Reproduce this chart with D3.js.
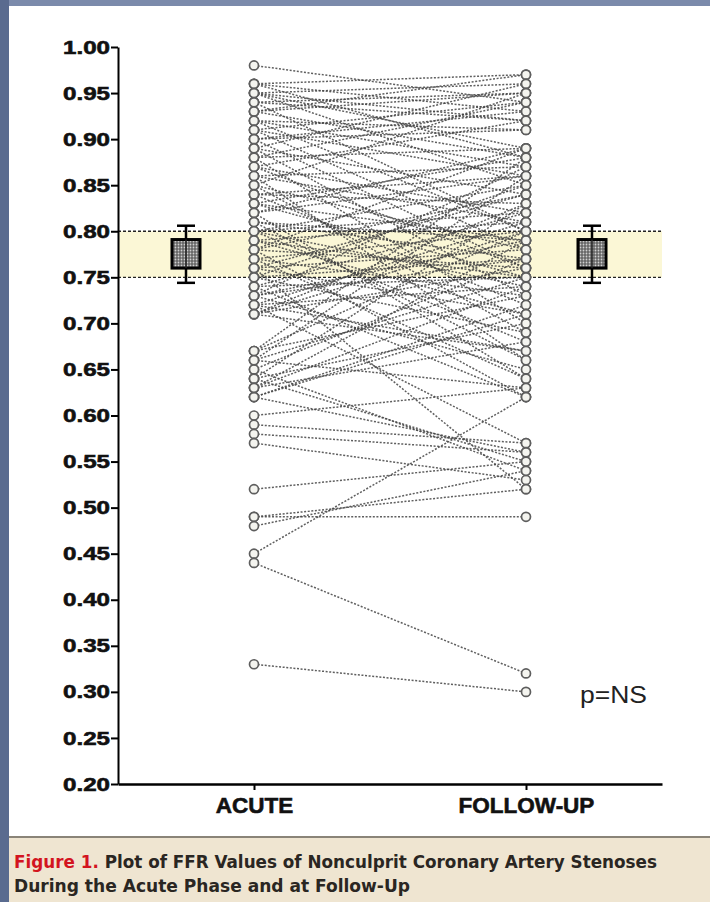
<!DOCTYPE html>
<html>
<head>
<meta charset="utf-8">
<script src="https://cdn.jsdelivr.net/npm/d3@7"></script>
<style>
  body { margin: 0; background: #7b8aab; }
  svg { display: block; }
</style>
</head>
<body>
<svg id="chart" width="710" height="902"></svg>
<script>
// categories on the x axis
const groups = ["ACUTE", "FOLLOW-UP"];

// paired FFR values, one entry per stenosis (acute[i] -> followUp[i])
const acute = [
  0.98, 0.96, 0.96, 0.95, 0.95, 0.95, 0.94, 0.94, 0.93, 0.93,
  0.92, 0.92, 0.91, 0.91, 0.90, 0.90, 0.89, 0.89, 0.88, 0.88,
  0.87, 0.87, 0.86, 0.86, 0.85, 0.85, 0.84, 0.84, 0.83, 0.83,
  0.82, 0.82, 0.81, 0.81, 0.80, 0.80, 0.80, 0.79, 0.79, 0.78,
  0.78, 0.78, 0.77, 0.77, 0.76, 0.76, 0.76, 0.75, 0.75, 0.74,
  0.74, 0.73, 0.73, 0.73, 0.72, 0.72, 0.72, 0.71, 0.71, 0.71,
  0.67, 0.67, 0.66, 0.66, 0.65, 0.65, 0.64, 0.64, 0.63, 0.63,
  0.62, 0.62, 0.62, 0.60, 0.59, 0.58, 0.57, 0.52, 0.49, 0.49,
  0.48, 0.45, 0.44, 0.33,
  0.96, 0.95, 0.94, 0.93, 0.92, 0.91, 0.90, 0.89, 0.88, 0.87,
  0.86, 0.85, 0.84, 0.83, 0.82, 0.81, 0.80, 0.79, 0.78, 0.77,
  0.76, 0.75, 0.74, 0.73, 0.72, 0.71, 0.67, 0.66, 0.64, 0.63
];
const followUp = [
  0.94, 0.97, 0.93, 0.96, 0.89, 0.85, 0.95, 0.92, 0.97, 0.88,
  0.91, 0.80, 0.94, 0.86, 0.93, 0.76, 0.96, 0.84, 0.89, 0.70,
  0.92, 0.82, 0.87, 0.66, 0.95, 0.78, 0.83, 0.72, 0.88, 0.75,
  0.86, 0.64, 0.79, 0.77, 0.85, 0.74, 0.68, 0.81, 0.71, 0.89,
  0.76, 0.62, 0.80, 0.73, 0.84, 0.52, 0.78, 0.77, 0.69, 0.82,
  0.75, 0.87, 0.79, 0.65, 0.74, 0.57, 0.81, 0.76, 0.67, 0.83,
  0.80, 0.73, 0.86, 0.63, 0.77, 0.54, 0.70, 0.55, 0.79, 0.68,
  0.72, 0.56, 0.71, 0.63, 0.57, 0.56, 0.53, 0.55, 0.49, 0.52,
  0.54, 0.62, 0.32, 0.30,
  0.88, 0.92, 0.80, 0.95, 0.87, 0.78, 0.91, 0.73, 0.94, 0.76,
  0.81, 0.69, 0.86, 0.79, 0.89, 0.66, 0.82, 0.75, 0.84, 0.64,
  0.71, 0.85, 0.62, 0.77, 0.67, 0.80, 0.88, 0.75, 0.83, 0.74
];

// summary marks beside each column: box (low/high) and whiskers (low/high)
const boxLow = [0.760, 0.760];
const boxHigh = [0.791, 0.791];
const whiskerLow = [0.744, 0.744];
const whiskerHigh = [0.806, 0.806];

// shaded zone
const zone = [0.75, 0.80];

const yTicks = [0.20, 0.25, 0.30, 0.35, 0.40, 0.45, 0.50, 0.55, 0.60, 0.65,
                0.70, 0.75, 0.80, 0.85, 0.90, 0.95, 1.00];

const svg = d3.select("#chart");

// frame: blue page, white figure panel, beige caption strip
svg.append("rect").attr("x", 0).attr("y", 0).attr("width", 710).attr("height", 902).attr("fill", "#7b8aab");
svg.append("rect").attr("x", 0).attr("y", 0).attr("width", 9).attr("height", 902).attr("fill", "#5a6b8f");
svg.append("rect").attr("x", 9).attr("y", 6).attr("width", 701).attr("height", 896).attr("fill", "#ffffff");
svg.append("rect").attr("x", 9).attr("y", 837).attr("width", 701).attr("height", 65).attr("fill", "#efe5d1");
svg.append("line").attr("x1", 9).attr("x2", 710).attr("y1", 837).attr("y2", 837)
  .attr("stroke", "#8a8478").attr("stroke-width", 2);

const y = d3.scaleLinear().domain([0.2, 1.0]).range([784, 47]);
const x = d3.scalePoint().domain(groups).range([118, 662]).padding(0.5);

const g = svg.append("g");

// pattern for the stippled boxes
const defs = svg.append("defs");
const pat = defs.append("pattern").attr("id", "stipple")
  .attr("width", 3).attr("height", 3).attr("patternUnits", "userSpaceOnUse");
pat.append("rect").attr("width", 3).attr("height", 3).attr("fill", "#666");
pat.append("circle").attr("cx", 1.5).attr("cy", 1.5).attr("r", 0.9).attr("fill", "#d0d0d0");

// pale band between 0.75 and 0.80
g.append("rect")
  .attr("x", 118).attr("width", 662 - 118)
  .attr("y", y(zone[1])).attr("height", y(zone[0]) - y(zone[1]))
  .attr("fill", "#fbf7d6");
g.selectAll("line.zone").data(zone).enter().append("line")
  .attr("class", "zone")
  .attr("x1", 118).attr("x2", 662)
  .attr("y1", d => y(d)).attr("y2", d => y(d))
  .attr("stroke", "#222").attr("stroke-width", 1.3)
  .attr("stroke-dasharray", "3,2");

// paired lines
const pairs = acute.map((a, i) => ({a: a, f: followUp[i]}));
g.selectAll("line.pair").data(pairs).enter().append("line")
  .attr("class", "pair")
  .attr("x1", x("ACUTE")).attr("x2", x("FOLLOW-UP"))
  .attr("y1", d => y(d.a)).attr("y2", d => y(d.f))
  .attr("stroke", "#444").attr("stroke-width", 1.5)
  .attr("stroke-dasharray", "2,1.6")
  .attr("opacity", 0.85);

// points
const pts = acute.map(v => ({g: "ACUTE", v: v}))
  .concat(followUp.map(v => ({g: "FOLLOW-UP", v: v})));
g.selectAll("circle.pt").data(pts).enter().append("circle")
  .attr("class", "pt")
  .attr("cx", d => x(d.g)).attr("cy", d => y(d.v))
  .attr("r", 4.5)
  .attr("fill", "#f4f4ef").attr("stroke", "#5e5e5e").attr("stroke-width", 1.7);

// summary boxes next to each column
const boxX = [x("ACUTE") - 68, x("FOLLOW-UP") + 66];
const summary = groups.map((k, i) => ({cx: boxX[i], lo: boxLow[i], hi: boxHigh[i], wl: whiskerLow[i], wh: whiskerHigh[i]}));
const sg = g.selectAll("g.summary").data(summary).enter().append("g").attr("class", "summary");
sg.append("line")
  .attr("x1", d => d.cx).attr("x2", d => d.cx)
  .attr("y1", d => y(d.wh)).attr("y2", d => y(d.wl))
  .attr("stroke", "#000").attr("stroke-width", 2.5);
sg.selectAll("line.cap").data(d => [{cx: d.cx, v: d.wh}, {cx: d.cx, v: d.wl}]).enter().append("line")
  .attr("class", "cap")
  .attr("x1", d => d.cx - 9).attr("x2", d => d.cx + 9)
  .attr("y1", d => y(d.v)).attr("y2", d => y(d.v))
  .attr("stroke", "#000").attr("stroke-width", 2.5);
sg.append("rect")
  .attr("x", d => d.cx - 14).attr("width", 28)
  .attr("y", d => y(d.hi)).attr("height", d => y(d.lo) - y(d.hi))
  .attr("fill", "url(#stipple)").attr("stroke", "#000").attr("stroke-width", 3);
sg.append("line")
  .attr("x1", d => d.cx).attr("x2", d => d.cx)
  .attr("y1", d => y(d.hi)).attr("y2", d => y(d.lo))
  .attr("stroke", "#222").attr("stroke-width", 1.5);

// axes
const yAxis = d3.axisLeft(y).tickValues(yTicks).tickFormat(d3.format(".2f"))
  .tickSize(7).tickSizeOuter(0).tickPadding(1);
const ya = svg.append("g").attr("transform", "translate(118,0)").call(yAxis);
ya.select(".domain").attr("stroke", "#000").attr("stroke-width", 2);
ya.selectAll(".tick line").attr("stroke", "#000").attr("stroke-width", 2);
ya.selectAll(".tick text")
  .attr("font-family", "Liberation Sans, Arial, sans-serif")
  .attr("font-weight", "bold").attr("font-size", 19).attr("fill", "#111")
  .attr("stroke", "#111").attr("stroke-width", 0.6)
  .attr("textLength", 47).attr("lengthAdjust", "spacingAndGlyphs");

const xAxis = d3.axisBottom(x).tickSize(6).tickSizeOuter(0).tickPadding(7);
const xa = svg.append("g").attr("transform", "translate(0,784)").call(xAxis);
xa.select(".domain").attr("stroke", "#000").attr("stroke-width", 2.5);
xa.selectAll(".tick line").attr("stroke", "#000").attr("stroke-width", 2);
xa.selectAll(".tick text")
  .attr("font-family", "Liberation Sans, Arial, sans-serif")
  .attr("font-weight", "bold").attr("font-size", 22.5).attr("fill", "#111")
  .attr("stroke", "#111").attr("stroke-width", 0.6);

// significance note
svg.append("text").attr("x", 580).attr("y", 703)
  .attr("font-family", "Liberation Sans, Arial, sans-serif")
  .attr("font-size", 23).attr("fill", "#222")
  .attr("textLength", 67).attr("lengthAdjust", "spacingAndGlyphs")
  .text("p=NS");

// caption
const cap1 = svg.append("text").attr("x", 14).attr("y", 868)
  .attr("font-family", "Liberation Sans Narrow, DejaVu Sans Condensed, Arial, sans-serif")
  .attr("font-weight", "bold").attr("font-size", 18).attr("fill", "#2a2622")
  .attr("textLength", 643).attr("lengthAdjust", "spacingAndGlyphs");
cap1.append("tspan").attr("fill", "#d3141f").text("Figure 1.");
cap1.append("tspan").text(" Plot of FFR Values of Nonculprit Coronary Artery Stenoses");
svg.append("text").attr("x", 14).attr("y", 892)
  .attr("font-family", "Liberation Sans Narrow, DejaVu Sans Condensed, Arial, sans-serif")
  .attr("font-weight", "bold").attr("font-size", 18).attr("fill", "#2a2622")
  .attr("textLength", 396).attr("lengthAdjust", "spacingAndGlyphs")
  .text("During the Acute Phase and at Follow-Up");
</script>
</body>
</html>
